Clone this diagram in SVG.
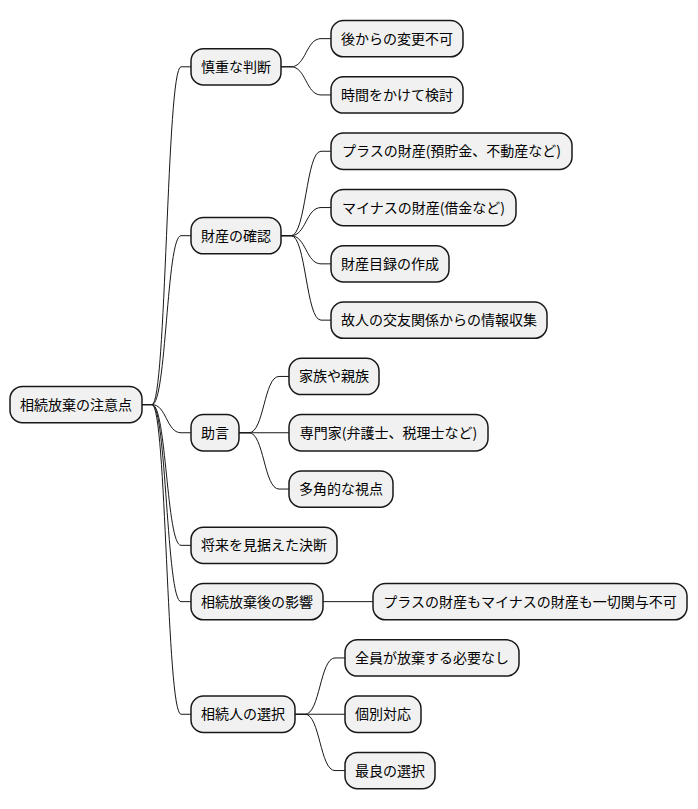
<svg xmlns="http://www.w3.org/2000/svg" width="698" height="809" viewBox="0 0 698 809">
<style>
.n rect{fill:#F1F1F1;stroke:#181818;stroke-width:1.5}
.n text{font-family:"Noto Sans CJK JP","Noto Sans",sans-serif;font-size:14px;fill:#000000;text-anchor:middle}
#links path{fill:none;stroke:#181818;stroke-width:1}
</style>
<rect width="698" height="809" fill="#FFFFFF"/>
<g id="links">
<path d="M142 404.6 L152 404.6 C166.5 404.6 166.5 66.8 181 66.8 L191 66.8"/>
<path d="M142 404.6 L152 404.6 C166.5 404.6 166.5 235.7 181 235.7 L191 235.7"/>
<path d="M142 404.6 L152 404.6 C166.5 404.6 166.5 432.75 181 432.75 L191 432.75"/>
<path d="M142 404.6 L152 404.6 C166.5 404.6 166.5 545.35 181 545.35 L191 545.35"/>
<path d="M142 404.6 L152 404.6 C166.5 404.6 166.5 601.65 181 601.65 L191 601.65"/>
<path d="M142 404.6 L152 404.6 C166.5 404.6 166.5 714.25 181 714.25 L191 714.25"/>
<path d="M281 66.8 L291 66.8 C306 66.8 306 38.65 321 38.65 L331 38.65"/>
<path d="M281 66.8 L291 66.8 C306 66.8 306 94.95 321 94.95 L331 94.95"/>
<path d="M281 235.7 L291 235.7 C306 235.7 306 151.25 321 151.25 L331 151.25"/>
<path d="M281 235.7 L291 235.7 C306 235.7 306 207.55 321 207.55 L331 207.55"/>
<path d="M281 235.7 L291 235.7 C306 235.7 306 263.85 321 263.85 L331 263.85"/>
<path d="M281 235.7 L291 235.7 C306 235.7 306 320.15 321 320.15 L331 320.15"/>
<path d="M239 432.75 L249 432.75 C264 432.75 264 376.45 279 376.45 L289 376.45"/>
<path d="M239 432.75 L289 432.75"/>
<path d="M239 432.75 L249 432.75 C264 432.75 264 489.05 279 489.05 L289 489.05"/>
<path d="M323 601.65 L373 601.65"/>
<path d="M295 714.25 L305 714.25 C320 714.25 320 657.95 335 657.95 L345 657.95"/>
<path d="M295 714.25 L345 714.25"/>
<path d="M295 714.25 L305 714.25 C320 714.25 320 770.55 335 770.55 L345 770.55"/>
</g>
<g id="root" class="n"><rect x="10" y="386.45" width="132" height="36.3" rx="12.5"/><text x="76" y="409.6">相続放棄の注意点</text></g>
<g id="n1" class="n"><rect x="191" y="48.65" width="90" height="36.3" rx="12.5"/><text x="236" y="71.8">慎重な判断</text></g>
<g id="n1a" class="n"><rect x="331" y="20.5" width="132" height="36.3" rx="12.5"/><text x="397" y="43.65">後からの変更不可</text></g>
<g id="n1b" class="n"><rect x="331" y="76.8" width="132" height="36.3" rx="12.5"/><text x="397" y="99.95">時間をかけて検討</text></g>
<g id="n2" class="n"><rect x="191" y="217.55" width="90" height="36.3" rx="12.5"/><text x="236" y="240.7">財産の確認</text></g>
<g id="n2a" class="n"><rect x="331" y="133.1" width="241" height="36.3" rx="12.5"/><text x="451.5" y="156.25">プラスの財産(預貯金、不動産など)</text></g>
<g id="n2b" class="n"><rect x="331" y="189.4" width="185" height="36.3" rx="12.5"/><text x="423.5" y="212.55">マイナスの財産(借金など)</text></g>
<g id="n2c" class="n"><rect x="331" y="245.7" width="118" height="36.3" rx="12.5"/><text x="390" y="268.85">財産目録の作成</text></g>
<g id="n2d" class="n"><rect x="331" y="302" width="216" height="36.3" rx="12.5"/><text x="439" y="325.15">故人の交友関係からの情報収集</text></g>
<g id="n3" class="n"><rect x="191" y="414.6" width="48" height="36.3" rx="12.5"/><text x="215" y="437.75">助言</text></g>
<g id="n3a" class="n"><rect x="289" y="358.3" width="90" height="36.3" rx="12.5"/><text x="334" y="381.45">家族や親族</text></g>
<g id="n3b" class="n"><rect x="289" y="414.6" width="199" height="36.3" rx="12.5"/><text x="388.5" y="437.75">専門家(弁護士、税理士など)</text></g>
<g id="n3c" class="n"><rect x="289" y="470.9" width="104" height="36.3" rx="12.5"/><text x="341" y="494.05">多角的な視点</text></g>
<g id="n4" class="n"><rect x="191" y="527.2" width="146" height="36.3" rx="12.5"/><text x="264" y="550.35">将来を見据えた決断</text></g>
<g id="n5" class="n"><rect x="191" y="583.5" width="132" height="36.3" rx="12.5"/><text x="257" y="606.65">相続放棄後の影響</text></g>
<g id="n5a" class="n"><rect x="373" y="583.5" width="314" height="36.3" rx="12.5"/><text x="530" y="606.65">プラスの財産もマイナスの財産も一切関与不可</text></g>
<g id="n6" class="n"><rect x="191" y="696.1" width="104" height="36.3" rx="12.5"/><text x="243" y="719.25">相続人の選択</text></g>
<g id="n6a" class="n"><rect x="345" y="639.8" width="174" height="36.3" rx="12.5"/><text x="432" y="662.95">全員が放棄する必要なし</text></g>
<g id="n6b" class="n"><rect x="345" y="696.1" width="76" height="36.3" rx="12.5"/><text x="383" y="719.25">個別対応</text></g>
<g id="n6c" class="n"><rect x="345" y="752.4" width="90" height="36.3" rx="12.5"/><text x="390" y="775.55">最良の選択</text></g>
</svg>
